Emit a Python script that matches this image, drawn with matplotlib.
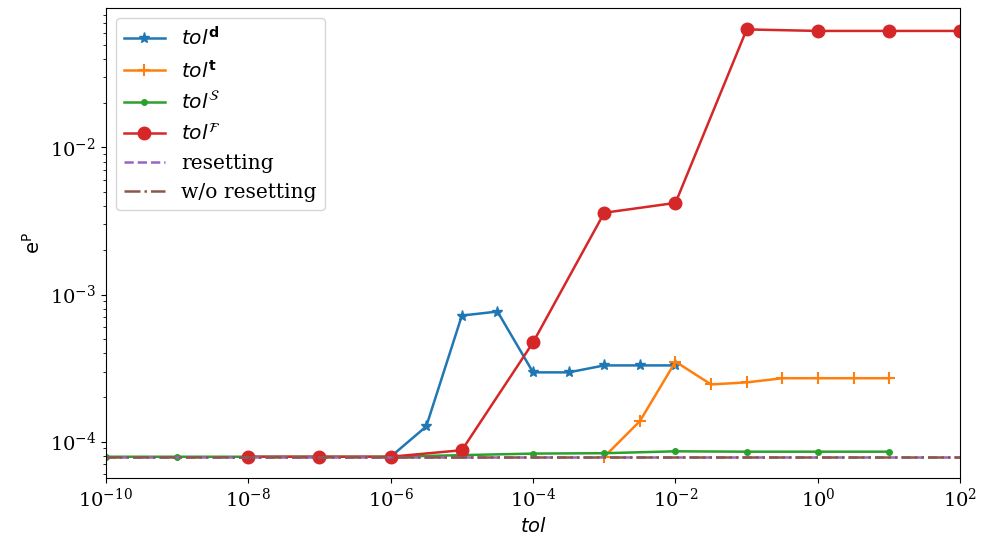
import matplotlib
matplotlib.use("Agg")
import matplotlib.pyplot as plt
from matplotlib.font_manager import FontProperties

plt.rcParams['font.family'] = ['DejaVu Serif']
plt.rcParams['mathtext.fontset'] = 'dejavuserif'
plt.rcParams['font.size'] = 14

# data
x_d = [1e-6, 10**-5.5, 1e-5, 10**-4.5, 1e-4, 10**-3.5, 1e-3, 10**-2.5, 1e-2]
y_d = [7.9e-5, 1.27e-4, 7.2e-4, 7.67e-4, 2.96e-4, 2.96e-4, 3.3e-4, 3.3e-4, 3.3e-4]

x_t = [1e-3, 10**-2.5, 1e-2, 10**-1.5, 1e-1, 10**-0.5, 1e0, 10**0.5, 1e1]
y_t = [7.9e-5, 1.38e-4, 3.5e-4, 2.45e-4, 2.53e-4, 2.7e-4, 2.7e-4, 2.7e-4, 2.7e-4]

x_s = [1e-10, 1e-9, 1e-8, 1e-7, 1e-6, 1e-5, 1e-4, 1e-3, 1e-2, 1e-1, 1e0, 1e1]
y_s = [7.9e-5, 7.9e-5, 7.9e-5, 7.9e-5, 7.9e-5, 8.1e-5, 8.3e-5, 8.35e-5, 8.6e-5, 8.55e-5, 8.55e-5, 8.55e-5]

x_f = [1e-8, 1e-7, 1e-6, 1e-5, 1e-4, 1e-3, 1e-2, 1e-1, 1e0, 1e1, 1e2]
y_f = [7.9e-5, 7.9e-5, 7.9e-5, 8.75e-5, 4.73e-4, 3.6e-3, 4.2e-3, 6.35e-2, 6.2e-2, 6.2e-2, 6.2e-2]

reset_val = 7.9e-5
noreset_val = 7.9e-5

labels = [r'$tol^{\mathbf{d}}$', r'$tol^{\mathbf{t}}$', r'$tol^{\mathcal{S}}$', r'$tol^{\mathcal{F}}$',
          'resetting', 'w/o resetting']

fig = plt.figure(figsize=(9.89, 5.36), dpi=100)
ax = fig.add_axes([0.107, 0.108, 0.864, 0.877])

lw = 1.8
ax.plot(x_d, y_d, color='C0', lw=lw, marker='*', ms=8, label=labels[0])
ax.plot(x_t, y_t, color='C1', lw=lw, marker='+', ms=9, mew=1.5, label=labels[1])
ax.plot(x_s, y_s, color='C2', lw=lw, marker='.', ms=8, label=labels[2])
ax.plot(x_f, y_f, color='C3', lw=lw, marker='o', ms=9, label=labels[3])
ax.axhline(reset_val, color='C4', ls='--', lw=lw, label=labels[4])
ax.axhline(noreset_val, color='C5', ls='-.', lw=lw, label=labels[5])

ax.set_xscale('log')
ax.set_yscale('log')
ax.set_xlim(1e-10, 1e2)

ax.set_xlabel(r'$tol$', math_fontfamily='dejavusans')
ax.set_ylabel(r'$\mathrm{e}^{\mathrm{P}}$', math_fontfamily='dejavusans')

ax.legend(loc='upper left', labelspacing=0.5,
          prop=FontProperties(family='DejaVu Serif', size=14.6, math_fontfamily='dejavusans'))

fig.savefig('out.png', dpi=100)
